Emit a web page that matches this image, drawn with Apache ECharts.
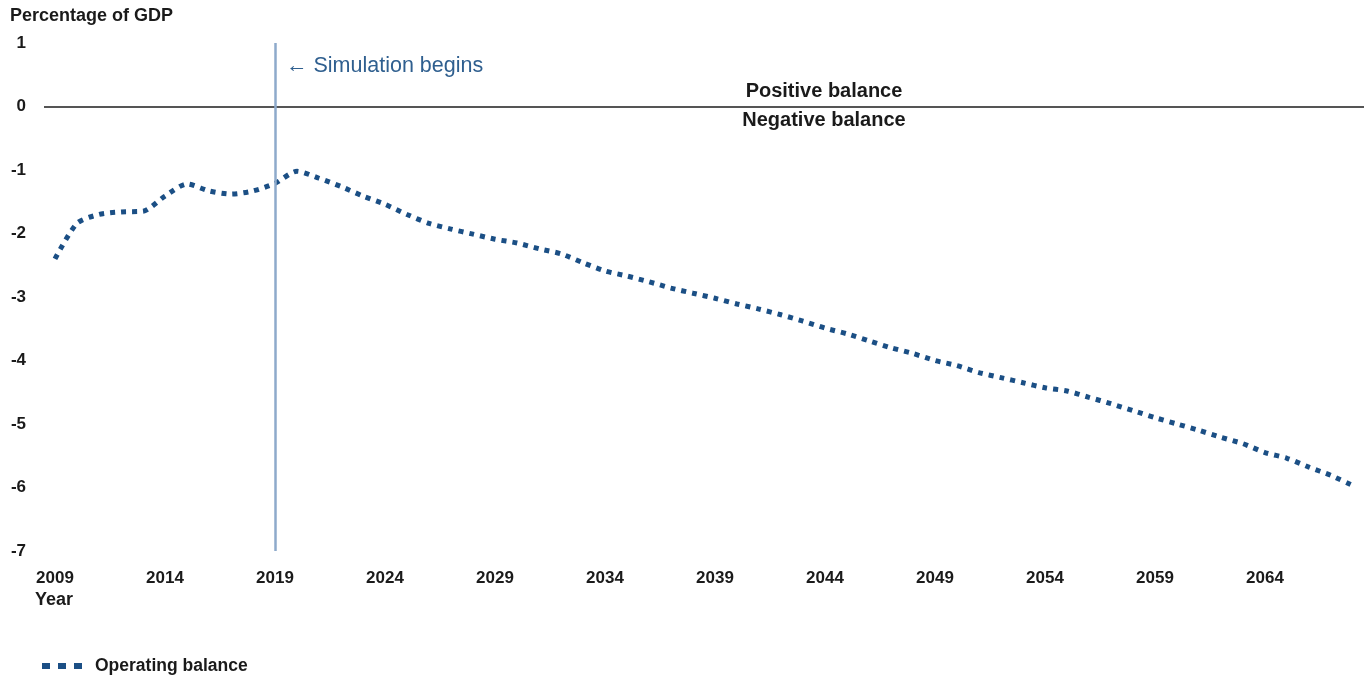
<!DOCTYPE html>
<html>
<head>
<meta charset="utf-8">
<script src="https://cdn.jsdelivr.net/npm/echarts@6/dist/echarts.min.js"></script>
<style>
html,body{margin:0;padding:0;background:#fff;}
#main{width:1364px;height:679px;}
</style>
</head>
<body>
<div id="main"></div>
<script>
const years = [];
for (let y = 2009; y <= 2068; y++) years.push(String(y));

const operatingBalance = [
  -2.40, -1.84, -1.70, -1.66, -1.65, -1.41, -1.22, -1.33, -1.38, -1.33,
  -1.21, -1.02, -1.13, -1.26, -1.41, -1.54, -1.70, -1.84, -1.93, -2.01,
  -2.09, -2.15, -2.24, -2.32, -2.46, -2.59, -2.67, -2.76, -2.86, -2.94,
  -3.02, -3.11, -3.19, -3.28, -3.38, -3.49, -3.58, -3.69, -3.80, -3.89,
  -4.00, -4.08, -4.19, -4.27, -4.35, -4.43, -4.48, -4.58, -4.68, -4.79,
  -4.90, -5.00, -5.10, -5.21, -5.31, -5.45, -5.54, -5.68, -5.81, -5.97
];

const yTicks = [1, 0, -1, -2, -3, -4, -5, -6, -7];
const simulationStart = '2019';

const FONT = 'Liberation Sans, Arial, sans-serif';
const chart = echarts.init(document.getElementById('main'));

chart.setOption({
  animation: false,
  backgroundColor: '#ffffff',
  grid: { left: 44, right: 0, top: 43, bottom: 128, containLabel: false },
  xAxis: {
    type: 'category',
    data: years,
    boundaryGap: true,
    axisLine: { show: false },
    axisTick: { show: false },
    splitLine: { show: false },
    axisLabel: {
      interval: 4,
      margin: 19,
      color: '#1a1a1a',
      fontFamily: FONT,
      fontWeight: 'bold',
      fontSize: 17
    }
  },
  yAxis: {
    type: 'value',
    min: Math.min(...yTicks),
    max: Math.max(...yTicks),
    interval: 1,
    axisLine: { show: false },
    axisTick: { show: false },
    splitLine: { show: false },
    axisLabel: {
      margin: 18,
      color: '#1a1a1a',
      fontFamily: FONT,
      fontWeight: 'bold',
      fontSize: 17
    }
  },
  legend: {
    left: 37,
    top: 652,
    itemWidth: 40,
    itemHeight: 6,
    icon: 'path://M0,0h8v6h-8z M16,0h8v6h-8z M32,0h8v6h-8z',
    textStyle: { color: '#1a1a1a', fontFamily: FONT, fontWeight: 'bold', fontSize: 17.5, padding: [0, 0, 0, 8] },
    data: [{ name: 'Operating balance', itemStyle: { color: '#1b4f85' } }]
  },
  graphic: [
    { type: 'text', left: 10, top: 7,
      style: { text: 'Percentage of GDP', fill: '#1a1a1a', font: 'bold 18px ' + FONT } },
    { type: 'text', left: 35, top: 591,
      style: { text: 'Year', fill: '#1a1a1a', font: 'bold 18px ' + FONT } },
    { type: 'text', left: 286, top: 55,
      style: { text: '\u2190 Simulation begins', fill: '#2f5f8f', font: '21.5px ' + FONT } },
    { type: 'text', x: 824, y: 91,
      style: { text: 'Positive balance', fill: '#1a1a1a', font: 'bold 20px ' + FONT, align: 'center', verticalAlign: 'middle' } },
    { type: 'text', x: 824, y: 120,
      style: { text: 'Negative balance', fill: '#1a1a1a', font: 'bold 20px ' + FONT, align: 'center', verticalAlign: 'middle' } }
  ],
  series: [{
    name: 'Operating balance',
    type: 'line',
    data: operatingBalance,
    showSymbol: false,
    symbol: 'none',
    smooth: 0.25,
    lineStyle: { color: '#1b4f85', width: 5, type: [5, 6], cap: 'butt' },
    itemStyle: { color: '#1b4f85' },
    markLine: {
      silent: true,
      symbol: 'none',
      label: { show: false },
      data: [
        { yAxis: 0, lineStyle: { color: '#555555', width: 2, type: 'solid' } },
        { xAxis: simulationStart, lineStyle: { color: '#8eaacb', width: 2.5, type: 'solid' } }
      ]
    }
  }]
});
</script>
</body>
</html>
